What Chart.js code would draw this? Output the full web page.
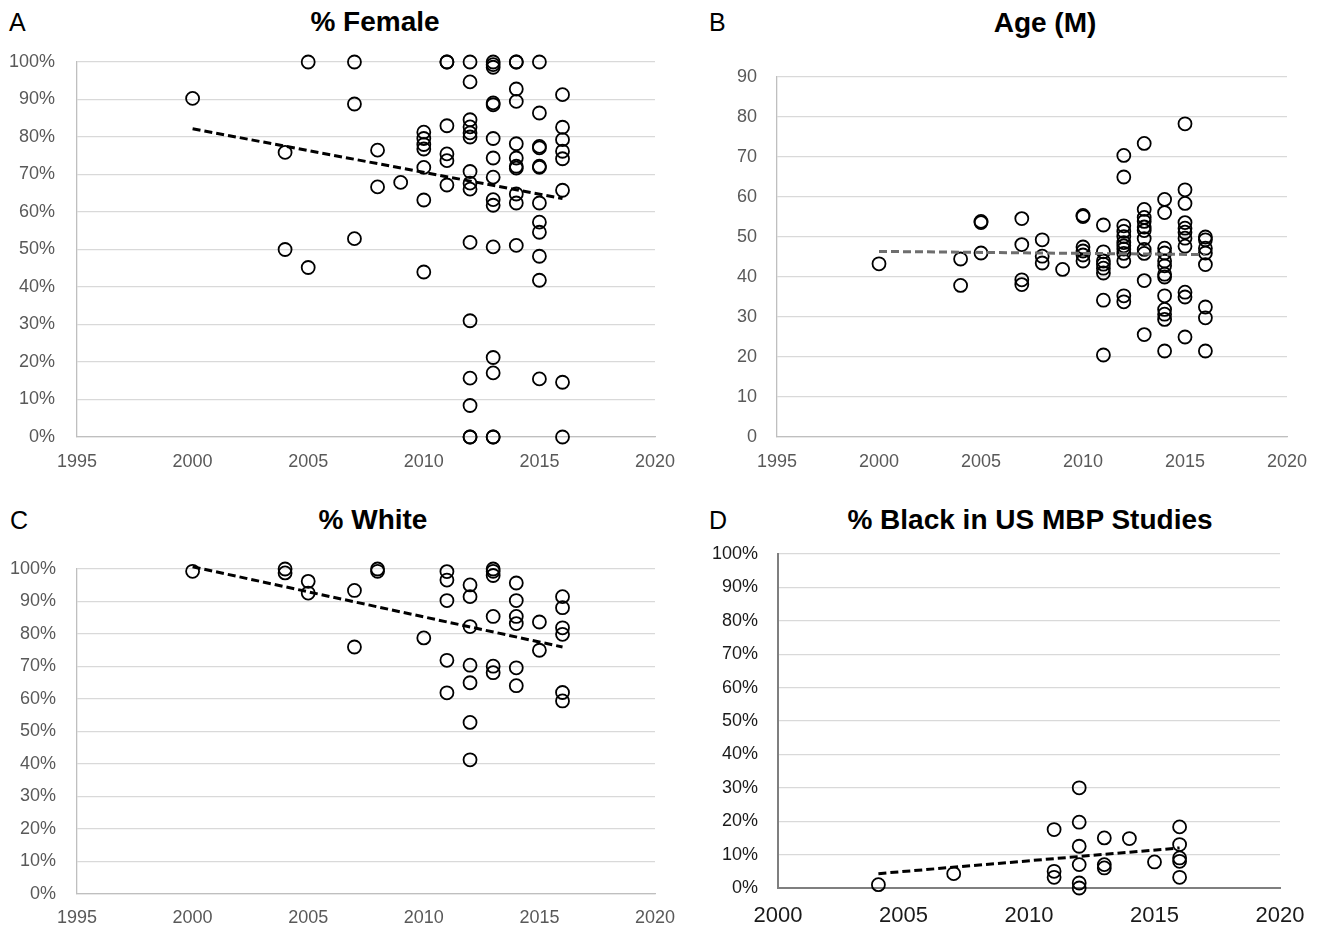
<!DOCTYPE html>
<html>
<head>
<meta charset="utf-8">
<script src="https://cdn.jsdelivr.net/npm/chart.js@4.4.1/dist/chart.umd.min.js"></script>
<style>
  body { margin: 0; background: #fff; width: 1322px; height: 927px; position: relative; overflow: hidden;
         font-family: 'Liberation Sans', Arial, sans-serif; }
  canvas { position: absolute; }
  .ttl { position: absolute; font-weight: bold; font-size: 28px; transform: translate(-50%, -50%); white-space: nowrap; color: #000; }
  .lbl { position: absolute; font-size: 25px; transform: translateY(-50%); color: #000; }
</style>
</head>
<body>
<div class="lbl" style="left:9px;top:22px">A</div>
<div class="ttl" style="left:375px;top:22px">% Female</div>
<div class="lbl" style="left:709px;top:22px">B</div>
<div class="ttl" style="left:1045px;top:23px">Age (M)</div>
<div class="lbl" style="left:10px;top:520px">C</div>
<div class="ttl" style="left:373px;top:520px">% White</div>
<div class="lbl" style="left:709px;top:520px">D</div>
<div class="ttl" style="left:1030px;top:520px">% Black in US MBP Studies</div>

<canvas id="chartA" width="690" height="480" style="left:0;top:0"></canvas>
<canvas id="chartB" width="642" height="480" style="left:680px;top:0"></canvas>
<canvas id="chartC" width="690" height="447" style="left:0;top:480px"></canvas>
<canvas id="chartD" width="642" height="447" style="left:680px;top:480px"></canvas>

<script>
// --- datos (un grupo de valores por año) ---

// A: % mujeres
const femaleYears = [2000, 2004, 2005, 2007, 2008, 2009, 2010, 2011, 2012, 2013, 2014, 2015, 2016];
const femalePct = [
  [90.3],
  [75.9, 50.0],
  [100, 45.2],
  [100, 88.8, 52.9],
  [76.5, 66.7],
  [67.9],
  [81.3, 79.6, 78.0, 76.8, 71.9, 63.2, 44.0],
  [100, 100, 83.0, 75.5, 73.7, 67.2],
  [100, 94.7, 84.6, 82.7, 81.1, 80.0, 70.8, 67.7, 66.1, 51.9, 31.0, 15.7, 8.4, 0, 0],
  [100, 99.3, 98.6, 89.1, 88.6, 79.6, 74.4, 69.3, 63.3, 61.8, 50.7, 21.2, 17.1, 0, 0],
  [100, 100, 92.8, 89.5, 78.2, 74.4, 72.2, 71.7, 64.8, 62.4, 51.1],
  [100, 86.4, 77.5, 77.1, 72.2, 71.9, 62.4, 57.3, 54.6, 48.2, 41.8, 15.5],
  [91.3, 82.6, 79.3, 76.2, 74.2, 65.8, 14.6, 0]
];
const femaleTrendX = [2000, 2016];
const femaleTrendY = [82.2, 63.6];

// B: edad media
const ageYears = [2000, 2004, 2005, 2007, 2008, 2009, 2010, 2011, 2012, 2013, 2014, 2015, 2016];
const ageMean = [
  [43.3],
  [44.5, 37.9],
  [53.9, 53.6, 46.0],
  [54.6, 48.1, 39.3, 38.1],
  [49.3, 45.2, 43.5],
  [41.9],
  [55.4, 55.1, 47.5, 46.5, 45.5, 44.0],
  [53.0, 46.3, 44.0, 43.2, 42.2, 41.0, 34.2, 20.5],
  [70.4, 65.0, 52.8, 51.4, 50.1, 48.6, 47.8, 47.0, 45.9, 44.0, 35.3, 33.8],
  [73.4, 56.9, 54.9, 53.9, 52.5, 51.6, 49.6, 46.9, 45.9, 39.1, 25.6],
  [59.4, 56.1, 47.2, 46.0, 44.0, 42.8, 40.7, 40.0, 35.3, 31.9, 30.7, 29.4, 21.5],
  [78.3, 61.8, 58.4, 53.6, 52.2, 51.2, 49.7, 47.7, 36.2, 35.0, 25.0],
  [50.0, 49.3, 47.2, 46.0, 43.1, 32.5, 29.8, 21.5]
];
const ageTrendX = [2000, 2016];
const ageTrendY = [46.4, 45.6];

// C: % blancos
const whiteYears = [2000, 2004, 2005, 2007, 2008, 2010, 2011, 2012, 2013, 2014, 2015, 2016];
const whitePct = [
  [99.3],
  [100, 98.8],
  [96.2, 92.6],
  [93.4, 76.0],
  [100, 99.3],
  [78.8],
  [99.2, 96.6, 90.3, 71.9, 61.9],
  [95.1, 91.5, 82.3, 70.4, 65.0, 52.8, 41.3],
  [100, 99.3, 98.0, 85.4, 70.1, 68.1],
  [95.7, 90.3, 85.4, 83.2, 69.6, 64.1],
  [83.7, 75.0],
  [91.5, 88.1, 81.9, 79.9, 62.0, 59.4]
];
const whiteTrendX = [2000, 2016];
const whiteTrendY = [100.7, 76.0];

// D: % negros (estudios de EE.UU.)
const blackYears = [2004, 2007, 2011, 2012, 2013, 2014, 2015, 2016];
const blackPct = [
  [1.0],
  [4.3],
  [17.5, 5.0, 3.2],
  [30.0, 19.7, 12.5, 7.0, 1.5, 0],
  [15.0, 7.0, 6.0],
  [14.8],
  [7.8],
  [18.3, 13.0, 9.0, 8.0, 3.2]
];
const blackTrendX = [2004, 2016];
const blackTrendY = [4.3, 12.0];

// --- helpers ---
function toPoints(years, groups) {
  const pts = [];
  years.forEach((yr, i) => groups[i].forEach(v => pts.push({ x: yr, y: v })));
  return pts;
}
function toLine(xs, ys) {
  return xs.map((x, i) => ({ x: x, y: ys[i] }));
}

Chart.defaults.font.family = "'Liberation Sans', Arial, sans-serif";

function drawPanel(id, cfg) {
  new Chart(document.getElementById(id), {
    type: 'scatter',
    data: {
      datasets: [
        {
          data: cfg.points,
          pointRadius: 6.5,
          pointHoverRadius: 6.5,
          pointBorderWidth: 1.8,
          pointBorderColor: '#000',
          pointBackgroundColor: 'rgba(0,0,0,0)',
          clip: false,
          order: 2
        },
        {
          type: 'line',
          data: cfg.trend,
          borderColor: cfg.trendColor,
          borderWidth: 3,
          borderDash: [8, 4],
          pointRadius: 0,
          fill: false,
          clip: false,
          order: 1
        }
      ]
    },
    options: {
      responsive: false,
      animation: false,
      events: [],
      layout: { padding: { top: cfg.padTop, right: cfg.padRight, left: 0, bottom: 0 } },
      plugins: { legend: { display: false }, tooltip: { enabled: false } },
      scales: {
        x: {
          type: 'linear', min: cfg.xMin, max: 2020,
          ticks: { stepSize: 5, padding: cfg.xPad, color: cfg.tickColor, font: { size: cfg.xTickSize },
                   maxRotation: 0, callback: v => String(v) },
          grid: { display: false, drawTicks: false },
          border: { display: true, color: cfg.axisColor, width: cfg.axisWidth },
          afterFit: s => { s.height = cfg.xH; }
        },
        y: {
          min: 0, max: cfg.yMax,
          ticks: { stepSize: cfg.yStep, padding: cfg.yPad, color: cfg.tickColor, font: { size: cfg.yTickSize },
                   callback: v => cfg.pct ? v + '%' : String(v) },
          grid: { color: '#d9d9d9', lineWidth: 1.3, drawTicks: false },
          border: { display: true, color: cfg.axisColor, width: cfg.axisWidth },
          afterFit: s => { s.width = cfg.yW; }
        }
      }
    }
  });
}

drawPanel('chartA', {
  points: toPoints(femaleYears, femalePct), trend: toLine(femaleTrendX, femaleTrendY), trendColor: '#000',
  xMin: 1995, yMax: 100, yStep: 10, pct: true,
  padTop: 62, padRight: 35, yW: 77, xH: 43, xPad: 14, yPad: 22,
  tickColor: '#595959', xTickSize: 18, yTickSize: 18, axisColor: '#bfbfbf', axisWidth: 1.3
});
drawPanel('chartB', {
  points: toPoints(ageYears, ageMean), trend: toLine(ageTrendX, ageTrendY), trendColor: '#6e6e6e',
  xMin: 1995, yMax: 90, yStep: 10, pct: false,
  padTop: 77, padRight: 35, yW: 97, xH: 43, xPad: 14, yPad: 20,
  tickColor: '#595959', xTickSize: 18, yTickSize: 18, axisColor: '#bfbfbf', axisWidth: 1.3
});
drawPanel('chartC', {
  points: toPoints(whiteYears, whitePct), trend: toLine(whiteTrendX, whiteTrendY), trendColor: '#000',
  xMin: 1995, yMax: 100, yStep: 10, pct: true,
  padTop: 89, padRight: 35, yW: 77, xH: 33, xPad: 13, yPad: 21,
  tickColor: '#595959', xTickSize: 18, yTickSize: 18, axisColor: '#bfbfbf', axisWidth: 1.3
});
drawPanel('chartD', {
  points: toPoints(blackYears, blackPct), trend: toLine(blackTrendX, blackTrendY), trendColor: '#000',
  xMin: 2000, yMax: 100, yStep: 10, pct: true,
  padTop: 74, padRight: 42, yW: 98, xH: 39, xPad: 15, yPad: 20,
  tickColor: '#1a1a1a', xTickSize: 22, yTickSize: 18, axisColor: '#7f7f7f', axisWidth: 2
});
</script>
</body>
</html>
